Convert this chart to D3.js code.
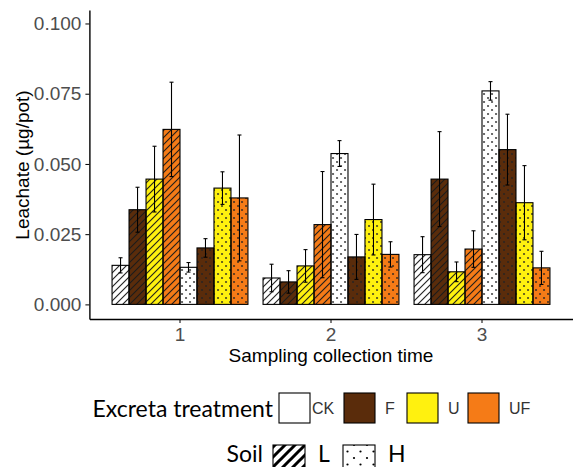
<!DOCTYPE html>
<html>
<head>
<meta charset="utf-8">
<script src="https://cdn.jsdelivr.net/npm/d3@7"></script>
<style>
  body { margin: 0; background: #fff; }
  svg { display: block; }
  .axis text { font-family: "Liberation Sans", Arial, sans-serif; font-size: 19px; fill: #4d4d4d; }
  .axis path, .axis line { stroke: #000; }
</style>
</head>
<body>
<svg width="573" height="467"></svg>
<script>
// sampling times, soils, treatments
var times = ["1", "2", "3"];
var soils = ["L", "H"];
var treatments = ["CK", "F", "U", "UF"];
var yTicks = [0, 0.025, 0.05, 0.075, 0.1];

// bar order inside each time: L-CK, L-F, L-U, L-UF, H-CK, H-F, H-U, H-UF
var mean1 = [0.0139, 0.0337, 0.0446, 0.0623, 0.0132, 0.0201, 0.0414, 0.0379];
var err1  = [0.0027, 0.0080, 0.0117, 0.0168, 0.0017, 0.0033, 0.0058, 0.0224];
var mean2 = [0.0094, 0.0080, 0.0137, 0.0284, 0.0537, 0.0169, 0.0302, 0.0178];
var err2  = [0.0049, 0.0040, 0.0058, 0.0189, 0.0046, 0.0080, 0.0126, 0.0045];
var mean3 = [0.0177, 0.0446, 0.0116, 0.0197, 0.0760, 0.0551, 0.0362, 0.0130];
var err3  = [0.0064, 0.0169, 0.0035, 0.0065, 0.0033, 0.0126, 0.0132, 0.0059];

var colors = {CK: "#ffffff", F: "#5a2c0b", U: "#fff10f", UF: "#f57b17"};

var means = [mean1, mean2, mean3];
var errs = [err1, err2, err3];

var data = [];
times.forEach(function(t, ti) {
    var k = 0;
    soils.forEach(function(s) {
        treatments.forEach(function(tr) {
            data.push({time: t, soil: s, trt: tr, key: s + "-" + tr,
                mean: means[ti][k], err: errs[ti][k]});
            k++;
        });
    });
});

var svg = d3.select("svg");
var defs = svg.append("defs");

// stripes for soil L (bars)
var hatch = defs.append("pattern")
    .attr("id", "hatch").attr("patternUnits", "userSpaceOnUse")
    .attr("width", 7).attr("height", 7);
hatch.append("path")
    .attr("d", "M0,7 L7,0 M-2,2 L2,-2 M5,9 L9,5")
    .attr("stroke", "#1a1a1a").attr("stroke-width", 1.1);

// dots for soil H (bars)
var dots = defs.append("pattern")
    .attr("id", "dots").attr("patternUnits", "userSpaceOnUse")
    .attr("width", 8).attr("height", 8);
dots.append("circle").attr("cx", 2).attr("cy", 2).attr("r", 0.9).attr("fill", "#222");
dots.append("circle").attr("cx", 6).attr("cy", 6).attr("r", 0.9).attr("fill", "#222");

// bigger versions for the legend keys
var hatchL = defs.append("pattern")
    .attr("id", "hatchLeg").attr("patternUnits", "userSpaceOnUse")
    .attr("width", 10).attr("height", 10);
hatchL.append("path")
    .attr("d", "M0,10 L10,0 M-3,3 L3,-3 M7,13 L13,7")
    .attr("stroke", "#000").attr("stroke-width", 3);

var dotsL = defs.append("pattern")
    .attr("id", "dotsLeg").attr("patternUnits", "userSpaceOnUse")
    .attr("width", 13).attr("height", 13);
dotsL.append("circle").attr("cx", 3).attr("cy", 3).attr("r", 1.1).attr("fill", "#000");
dotsL.append("circle").attr("cx", 9.5).attr("cy", 9.5).attr("r", 1.1).attr("fill", "#000");

var plot = {left: 89.4, right: 572.6, top: 10, bottom: 319};

var x0 = d3.scaleBand().domain(times).range([plot.left, plot.right])
    .paddingInner(0.1).paddingOuter(0.15);
var x1 = d3.scaleBand().domain(data.slice(0, 8).map(function(d) { return d.key; }))
    .range([0, x0.bandwidth()]);
var y = d3.scaleLinear().domain([-0.0052, 0.1048]).range([plot.bottom, plot.top]);

// bars
var g = svg.append("g");
var groups = g.selectAll("g.grp")
    .data(times).enter().append("g")
    .attr("transform", function(t) { return "translate(" + x0(t) + ",0)"; });

groups.each(function(t) {
    var grp = d3.select(this);
    var rows = data.filter(function(d) { return d.time === t; });
    grp.selectAll("rect.fill").data(rows).enter().append("rect")
        .attr("x", function(d) { return x1(d.key); })
        .attr("y", function(d) { return y(d.mean); })
        .attr("width", x1.bandwidth())
        .attr("height", function(d) { return y(0) - y(d.mean); })
        .attr("fill", function(d) { return colors[d.trt]; });
    grp.selectAll("rect.pat").data(rows).enter().append("rect")
        .attr("x", function(d) { return x1(d.key); })
        .attr("y", function(d) { return y(d.mean); })
        .attr("width", x1.bandwidth())
        .attr("height", function(d) { return y(0) - y(d.mean); })
        .attr("fill", function(d) { return d.soil === "L" ? "url(#hatch)" : "url(#dots)"; })
        .attr("stroke", "#000").attr("stroke-width", 1.1);

    // error bars
    var eb = grp.selectAll("g.eb").data(rows).enter().append("g")
        .attr("stroke", "#000").attr("stroke-width", 1.1);
    eb.append("line")
        .attr("x1", function(d) { return x1(d.key) + x1.bandwidth() / 2; })
        .attr("x2", function(d) { return x1(d.key) + x1.bandwidth() / 2; })
        .attr("y1", function(d) { return y(d.mean + d.err); })
        .attr("y2", function(d) { return y(d.mean - d.err); });
    [1, -1].forEach(function(sgn) {
        eb.append("line")
            .attr("x1", function(d) { return x1(d.key) + x1.bandwidth() / 2 - 2; })
            .attr("x2", function(d) { return x1(d.key) + x1.bandwidth() / 2 + 2; })
            .attr("y1", function(d) { return y(d.mean + sgn * d.err); })
            .attr("y2", function(d) { return y(d.mean + sgn * d.err); });
    });
});

// axes
var yAxis = svg.append("g").attr("class", "axis")
    .attr("transform", "translate(" + plot.left + ",0)")
    .call(d3.axisLeft(y).tickValues(yTicks).tickFormat(d3.format(".3f")).tickSize(4).tickPadding(4).tickSizeOuter(0));
yAxis.select(".domain").attr("stroke-width", 1.4);
yAxis.selectAll(".tick line").attr("stroke", "#333");

var xAxis = svg.append("g").attr("class", "axis")
    .attr("transform", "translate(0," + plot.bottom + ")")
    .call(d3.axisBottom(x0).tickSize(4).tickPadding(5).tickSizeOuter(0));
xAxis.select(".domain").attr("stroke-width", 1.4);
xAxis.selectAll(".tick line").attr("stroke", "#333");

// axis titles
svg.append("text")
    .attr("x", 331).attr("y", 362)
    .attr("text-anchor", "middle")
    .style("font-family", "Liberation Sans, Arial, sans-serif").style("font-size", "19px")
    .text("Sampling collection time");

svg.append("text")
    .attr("transform", "translate(29,165) rotate(-90)")
    .attr("text-anchor", "middle")
    .style("font-family", "Liberation Sans, Arial, sans-serif").style("font-size", "19px")
    .text("Leachate (µg/pot)");

// legend: treatment
var leg = svg.append("g");
leg.append("text").attr("x", 273).attr("y", 417)
    .attr("text-anchor", "end")
    .style("font-family", "Lato, sans-serif").style("font-size", "23px")
    .text("Excreta treatment");

var keyX = [279, 344, 407, 468];
treatments.forEach(function(tr, i) {
    leg.append("rect").attr("x", keyX[i]).attr("y", 393).attr("width", 31).attr("height", 30)
        .attr("fill", colors[tr]).attr("stroke", "#000").attr("stroke-width", 1.1);
    leg.append("text").attr("x", keyX[i] + (tr === "CK" ? 33 : 41)).attr("y", 414)
        .style("font-family", "Liberation Sans, Arial, sans-serif").style("font-size", "16px")
        .style("fill", "#333")
        .text(tr);
});

// legend: soil
leg.append("text").attr("x", 263).attr("y", 462)
    .attr("text-anchor", "end")
    .style("font-family", "Lato, sans-serif").style("font-size", "23px")
    .text("Soil");
var soilX = [273, 343];
soils.forEach(function(s, i) {
    leg.append("rect").attr("x", soilX[i]).attr("y", 445).attr("width", 32).attr("height", 30)
        .attr("fill", "#fff").attr("stroke", "none");
    leg.append("rect").attr("x", soilX[i]).attr("y", 445).attr("width", 32).attr("height", 30)
        .attr("fill", s === "L" ? "url(#hatchLeg)" : "url(#dotsLeg)")
        .attr("stroke", "#000").attr("stroke-width", 1.1);
    leg.append("text").attr("x", soilX[i] + 45).attr("y", 462)
        .style("font-family", "Lato, sans-serif").style("font-size", "23px")
        .text(s);
});
</script>
</body>
</html>
